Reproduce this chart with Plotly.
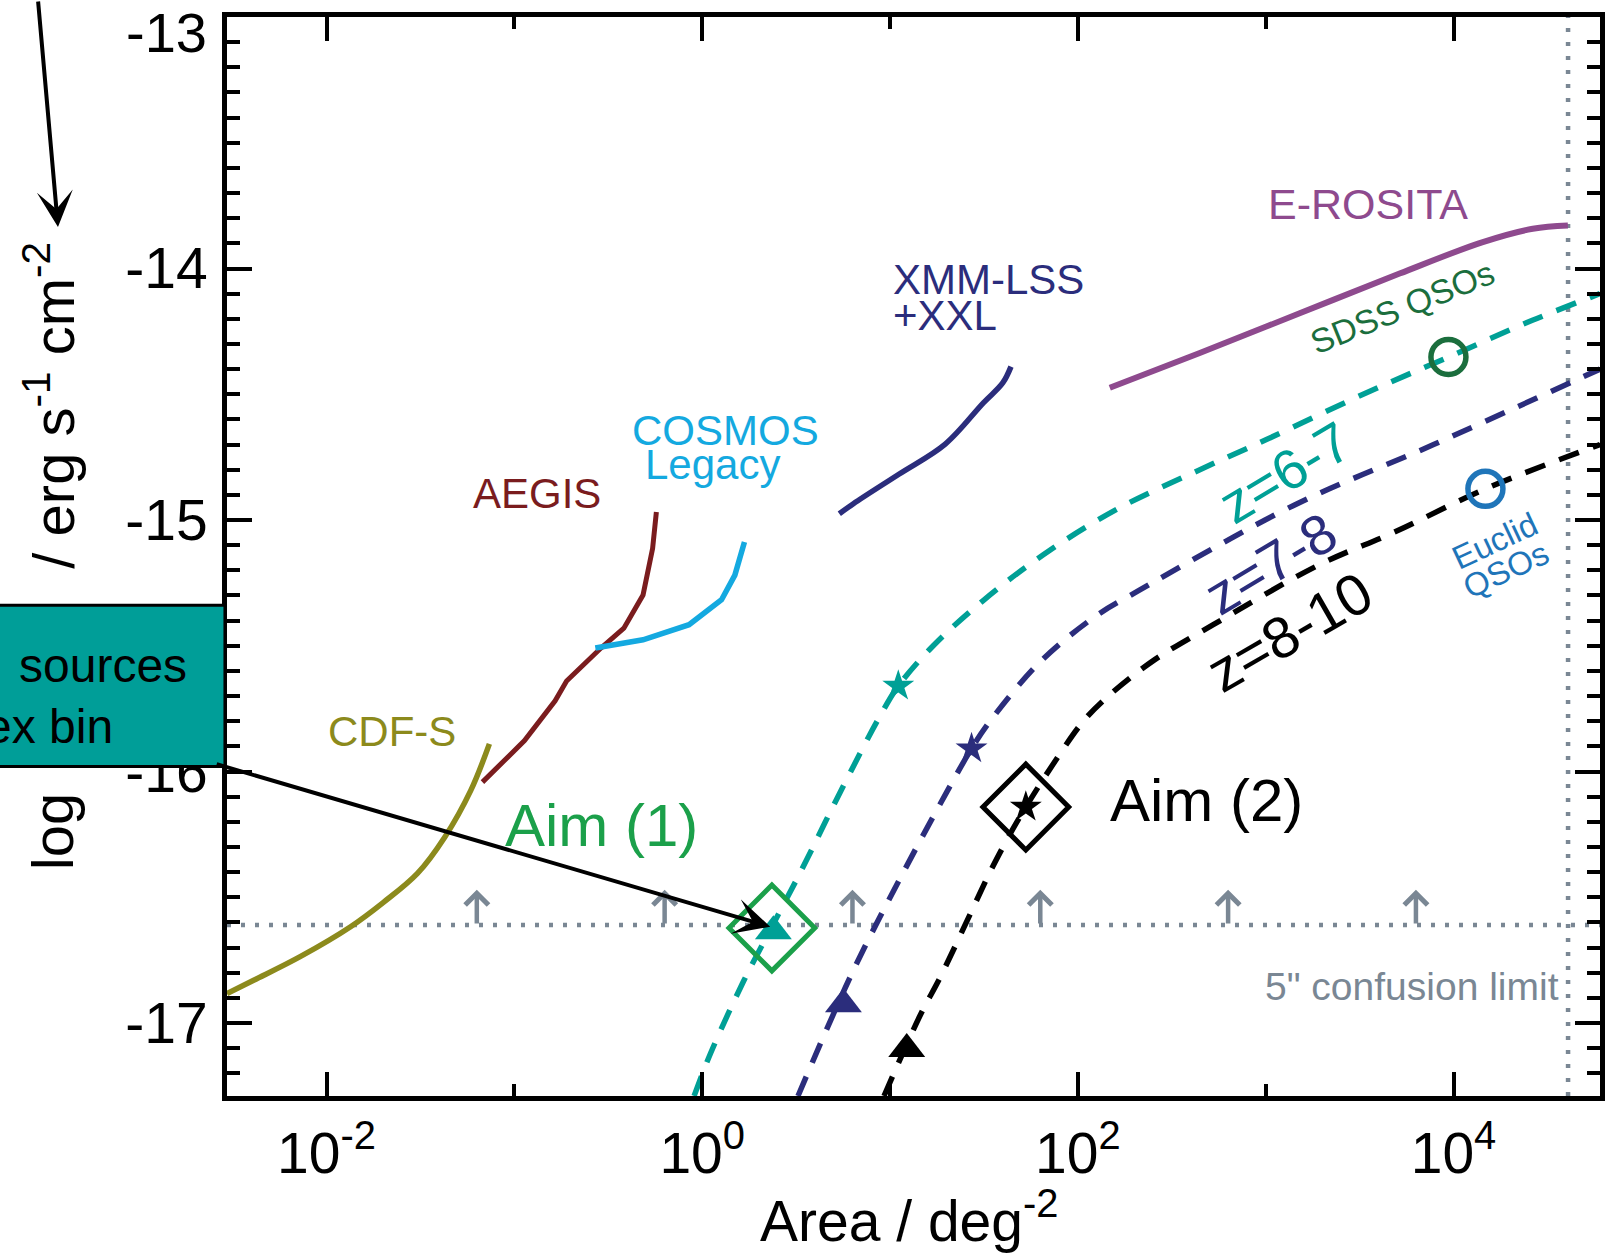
import plotly.graph_objects as go

FONT = "Liberation Sans, Arial, Helvetica, sans-serif"

# ---------------- data (log10 area [deg^2], log10 flux [erg/s/cm^2]) ----------------
cdfs_logA = [-2.53, -2.388, -2.138, -1.872, -1.697, -1.516, -1.37, -1.232, -1.133]
cdfs_logS = [-16.883, -16.83, -16.735, -16.617, -16.52, -16.405, -16.26, -16.075, -15.89]

aegis_logA = [-1.17, -0.946, -0.783, -0.722, -0.539, -0.417, -0.315, -0.264, -0.244]
aegis_logS = [-16.042, -15.877, -15.719, -15.64, -15.509, -15.43, -15.298, -15.113, -14.968]

cosmos_logA = [-0.569, -0.315, -0.07, 0.103, 0.174, 0.225]
cosmos_logS = [-15.509, -15.476, -15.416, -15.317, -15.219, -15.087]

xmm_logA = [0.73, 0.805, 1.049, 1.294, 1.497, 1.6, 1.644]
xmm_logS = [-14.975, -14.935, -14.817, -14.698, -14.534, -14.455, -14.39]

erosita_logA = [2.17, 2.649, 3.181, 3.713, 4.156, 4.422, 4.609]
erosita_logS = [-14.474, -14.336, -14.178, -14.02, -13.895, -13.842, -13.829]

z67_logA = [-0.043, 0.043, 0.22, 0.371, 0.521, 0.734, 0.947, 1.044, 1.23, 1.496, 1.816,
            2.213, 2.62, 3.004, 3.537, 3.973, 4.42, 4.78]
z67_logS = [-17.29, -17.123, -16.834, -16.617, -16.403, -16.083, -15.779, -15.66, -15.50,
            -15.32, -15.138, -14.955, -14.81, -14.68, -14.494, -14.352, -14.206, -14.10]

z78_logA = [0.51, 0.805, 1.089, 1.301, 1.434, 1.532, 1.798, 2.099, 2.314, 3.154, 3.894, 4.78]
z78_logS = [-17.29, -16.79, -16.375, -16.083, -15.909, -15.80, -15.565, -15.38, -15.285,
            -14.94, -14.70, -14.40]

z810_logA = [0.968, 1.16, 1.266, 1.408, 1.532, 1.638, 1.723, 1.869, 2.029, 2.162, 2.4,
             2.721, 3.282, 3.689, 4.17, 4.78]
z810_logS = [-17.29, -16.97, -16.82, -16.597, -16.40, -16.25, -16.141, -15.97, -15.80,
             -15.70, -15.56, -15.416, -15.179, -15.047, -14.876, -14.70]

# markers
tri_logA = [0.379, 0.752, 1.089]
tri_logS = [-16.635, -16.925, -17.103]
star_logA = [1.044, 1.434, 1.723]
star_logS = [-15.66, -15.909, -16.141]
aim_logA = [0.371, 1.723]
aim_logS = [-16.622, -16.141]
sdss_logA, sdss_logS = [3.973], [-14.352]
euclid_logA, euclid_logS = [4.17], [-14.876]

conf_logS = -16.61
conf_arrow_logA = [-1.2, -0.2, 0.8, 1.8, 2.8, 3.8]
conf_arrow_top = -16.47
fullsky_logA = 4.61

X_RANGE = [-2.53, 4.78]
Y_RANGE = [-17.29, -13.0]

x_tickvals = [1e-2, 1e0, 1e2, 1e4]
x_ticktext = ["10<sup>-2</sup>", "10<sup>0</sup>", "10<sup>2</sup>", "10<sup>4</sup>"]
x_minorvals = [1e-1, 1e1, 1e3]
y_tickvals = [-17, -16, -15, -14]
y_ticktext = ["-17", "-16", "-15", "-14"]

# colours
OLIVE = "#8c8a1c"
DARKRED = "#7a1c1e"
CYAN = "#14a9e0"
NAVY = "#2b2d7c"
PURPLE = "#8e4a8e"
TEAL = "#00a096"
DKGREEN = "#1b6e3d"
BLUE = "#1f75b9"
GREEN = "#1ba04a"
GRAY = "#7a8794"
BLACK = "#000000"


def A(v):
    return [10 ** x for x in v]


fig = go.Figure()


def add_line(xl, yl, color, width, dash=None, shape="spline", smoothing=1.0):
    fig.add_trace(go.Scatter(
        x=A(xl), y=yl, mode="lines",
        line=dict(color=color, width=width, dash=dash, shape=shape, smoothing=smoothing),
        showlegend=False, hoverinfo="skip"))


# confusion limit and full-sky lines
add_line([X_RANGE[0], X_RANGE[1]], [conf_logS, conf_logS], GRAY, 4.5, "4px,10px", "linear")
add_line([fullsky_logA, fullsky_logA], Y_RANGE, GRAY, 4.5, "4px,10px", "linear")

# surveys
add_line(cdfs_logA, cdfs_logS, OLIVE, 5.5)
add_line(aegis_logA, aegis_logS, DARKRED, 5, shape="linear")
add_line(cosmos_logA, cosmos_logS, CYAN, 5.5, shape="linear")
add_line(xmm_logA, xmm_logS, NAVY, 5.5)
add_line(erosita_logA, erosita_logS, PURPLE, 6)

# redshift tracks
add_line(z67_logA, z67_logS, TEAL, 5.5, "21px,15px")
add_line(z78_logA, z78_logS, NAVY, 5.5, "21px,15px")
add_line(z810_logA, z810_logS, BLACK, 5.5, "21px,15px")

# markers
fig.add_trace(go.Scatter(x=A(tri_logA), y=tri_logS, mode="markers",
                         marker=dict(symbol="triangle-up", size=32, color=[TEAL, NAVY, BLACK]),
                         showlegend=False, hoverinfo="skip"))
fig.add_trace(go.Scatter(x=A(star_logA), y=star_logS, mode="markers",
                         marker=dict(symbol="star", size=24, color=[TEAL, NAVY, BLACK]),
                         showlegend=False, hoverinfo="skip"))
fig.add_trace(go.Scatter(x=A(aim_logA), y=aim_logS, mode="markers",
                         marker=dict(symbol="diamond-open", size=66, color=[GREEN, BLACK],
                                     line=dict(width=5)),
                         showlegend=False, hoverinfo="skip"))
fig.add_trace(go.Scatter(x=A(sdss_logA), y=sdss_logS, mode="markers",
                         marker=dict(symbol="circle-open", size=35, color=DKGREEN,
                                     line=dict(width=5.5)),
                         showlegend=False, hoverinfo="skip"))
fig.add_trace(go.Scatter(x=A(euclid_logA), y=euclid_logS, mode="markers",
                         marker=dict(symbol="circle-open", size=35, color=BLUE,
                                     line=dict(width=5.5)),
                         showlegend=False, hoverinfo="skip"))

annotations = []


def txt(text, x, y, color, size, angle=0, xanchor="center"):
    annotations.append(dict(text=text, x=x, y=y, xref="x", yref="y", showarrow=False,
                            xanchor=xanchor, yanchor="middle", textangle=angle,
                            font=dict(family=FONT, size=size, color=color)))


txt("CDF-S", -1.654, -15.842, OLIVE, 42)
txt("AEGIS", -0.878, -14.893, DARKRED, 42)
txt("COSMOS", 0.122, -14.644, CYAN, 42)
txt("Legacy", 0.053, -14.781, CYAN, 42)
txt("XMM-LSS", 1.005, -14.043, NAVY, 42, xanchor="left")
txt("+XXL", 1.005, -14.186, NAVY, 42, xanchor="left")
txt("E-ROSITA", 3.543, -13.743, PURPLE, 43)
txt("SDSS QSOs", 3.729, -14.154, DKGREEN, 34, -22)
txt("z=6-7", 3.101, -14.81, TEAL, 56, -31)
txt("z=7-8", 3.027, -15.174, NAVY, 56, -31)
txt("z=8-10", 3.128, -15.443, BLACK, 58, -30)
txt("Euclid", 4.223, -15.083, BLUE, 33, -25)
txt("QSOs", 4.282, -15.198, BLUE, 33, -25)
txt("Aim (1)", -0.537, -16.213, GREEN, 60)
txt("Aim (2)", 2.686, -16.115, BLACK, 60)
txt('5" confusion limit', 4.574, -16.856, GRAY, 39, xanchor="right")

# upward arrows on the confusion limit
for xa in conf_arrow_logA:
    annotations.append(dict(x=xa, y=conf_arrow_top, xref="x", yref="y",
                            ax=xa, ay=conf_logS, axref="x", ayref="y",
                            text="", showarrow=True, arrowhead=4, arrowsize=1.0,
                            arrowwidth=4.5, arrowcolor=GRAY, standoff=0))

# pointer arrows (overlay)
annotations.append(dict(x=0.362, y=-16.617, xref="x", yref="y", ax=-555, ay=-163,
                        text="", showarrow=True, arrowhead=3, arrowsize=1.5,
                        arrowwidth=4, arrowcolor=BLACK, standoff=0))
annotations.append(dict(x=-0.1231, y=0.8054, xref="paper", yref="paper", ax=-20, ay=-232,
                        text="", showarrow=True, arrowhead=3, arrowsize=1.5,
                        arrowwidth=4, arrowcolor=BLACK, standoff=0))

# y title pieces (middle part hidden by overlay box)
annotations.append(dict(text="log", x=-0.1275, y=0.2454, xref="paper", yref="paper",
                        showarrow=False, textangle=-90, xanchor="center", yanchor="middle",
                        font=dict(family=FONT, size=58, color=BLACK)))
annotations.append(dict(text="/ erg s<sup>-1</sup> cm<sup>-2</sup>", x=-0.1295, y=0.6400,
                        xref="paper", yref="paper", showarrow=False, textangle=-90,
                        xanchor="center", yanchor="middle",
                        font=dict(family=FONT, size=58, color=BLACK)))
# x title
annotations.append(dict(text="Area / deg<sup>-2</sup>", x=0.497, y=-0.1125, xref="paper",
                        yref="paper", showarrow=False, xanchor="center", yanchor="middle",
                        font=dict(family=FONT, size=57, color=BLACK)))
# top y tick label
annotations.append(dict(text="-13", x=0, y=1, xref="paper", yref="paper", showarrow=False,
                        xanchor="right", yanchor="middle", xshift=-18, yshift=-15,
                        font=dict(family=FONT, size=56, color=BLACK)))
# overlay box text
annotations.append(dict(text="sources", x=-0.1529, y=0.3994, xref="paper", yref="paper",
                        showarrow=False, xanchor="left", yanchor="middle",
                        font=dict(family=FONT, size=48, color=BLACK)))
annotations.append(dict(text="ex bin", x=-0.0816, y=0.3423, xref="paper", yref="paper",
                        showarrow=False, xanchor="right", yanchor="middle",
                        font=dict(family=FONT, size=48, color=BLACK)))

shapes = [dict(type="rect", xref="paper", yref="paper", x0=-0.2, x1=-0.0015,
               y0=0.3054, y1=0.4548, fillcolor="#009e98",
               line=dict(color=BLACK, width=3), layer="above")]

axis_common = dict(showline=True, linewidth=5, linecolor=BLACK, mirror="ticks",
                   ticks="inside", tickcolor=BLACK, tickwidth=4, showgrid=False,
                   zeroline=False)

fig.update_layout(
    width=1621, height=1256,
    margin=dict(l=227, r=21, t=12, b=160),
    paper_bgcolor="white", plot_bgcolor="white",
    font=dict(family=FONT, color=BLACK),
    xaxis=dict(type="log", range=X_RANGE, tickmode="array", tickvals=x_tickvals,
               ticktext=x_ticktext, ticklen=24,
               tickfont=dict(family=FONT, size=57, color=BLACK),
               ticklabelstandoff=4,
               minor=dict(tickmode="array", tickvals=x_minorvals, ticks="inside",
                          ticklen=12, tickwidth=4, tickcolor=BLACK),
               **axis_common),
    yaxis=dict(range=Y_RANGE, tickmode="array", tickvals=y_tickvals, ticktext=y_ticktext,
               ticklen=25, tickfont=dict(family=FONT, size=57, color=BLACK),
               ticklabelstandoff=3,
               minor=dict(tickmode="linear", tick0=-17, dtick=0.1, ticks="inside",
                          ticklen=13, tickwidth=4, tickcolor=BLACK),
               **axis_common),
    annotations=annotations,
    shapes=shapes,
    showlegend=False,
)

fig.write_html("out.html", config={"displayModeBar": False},
               post_script="document.body.style.margin='0';document.body.style.overflow='hidden';")
